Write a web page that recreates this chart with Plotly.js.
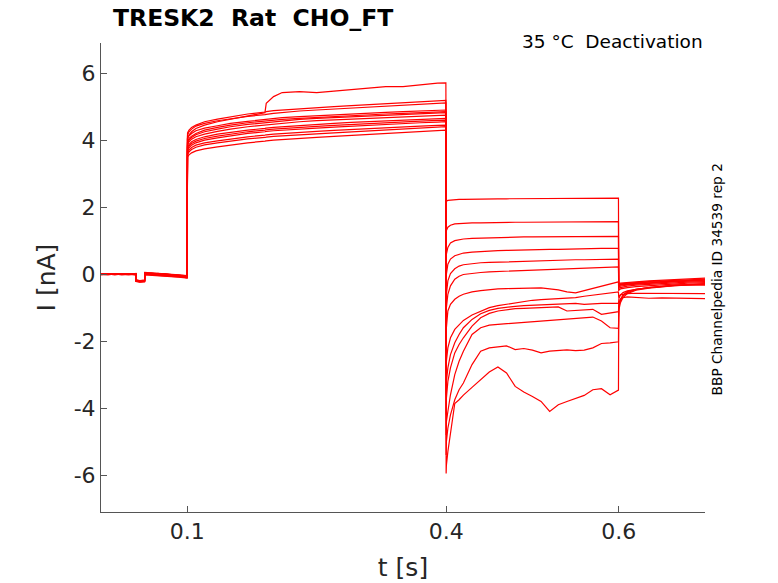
<!DOCTYPE html>
<html>
<head>
<meta charset="utf-8">
<script src="https://cdn.plot.ly/plotly-3.0.1.min.js"></script>
<style>
  html, body { margin: 0; padding: 0; background: #fff; }
  #plot { width: 778px; height: 583px; }
</style>
</head>
<body>
<div id="plot"></div>
<script>
// time points of each protocol segment (s)
let tBase = [0, 0.008, 0.016, 0.024, 0.032, 0.0404, 0.0406, 0.045, 0.0505, 0.0507, 0.058, 0.066, 0.074, 0.082, 0.09, 0.0997];
let tStep = [0.1, 0.1003, 0.102, 0.105, 0.11, 0.12, 0.135, 0.15, 0.17, 0.19, 0.1915, 0.2, 0.21, 0.23, 0.25, 0.27, 0.29, 0.31, 0.33, 0.35, 0.37, 0.39, 0.3997];
let tTail = [0.4, 0.4003, 0.402, 0.405, 0.41, 0.415, 0.42, 0.43, 0.44, 0.45, 0.46, 0.47, 0.48, 0.49, 0.5, 0.51, 0.52, 0.53, 0.54, 0.55, 0.56, 0.57, 0.58, 0.59, 0.5997];
let tOff = [0.6, 0.6003, 0.602, 0.605, 0.61, 0.62, 0.635, 0.65, 0.665, 0.68, 0.7];

// current (nA), one row per sweep
let baseI = [
  [0.00, 0.02, -0.01, 0.01, 0.00, -0.02, -0.19, -0.21, -0.2, 0.02, 0.01, -0.02, 0.0, -0.03, -0.05, -0.07],
  [0.01, 0.0, 0.02, -0.01, 0.01, 0.0, -0.2, -0.22, -0.21, 0.03, 0.02, 0.0, -0.02, -0.02, -0.04, -0.06],
  [-0.01, 0.01, 0.0, 0.02, -0.01, 0.01, -0.18, -0.2, -0.19, 0.01, -0.01, 0.02, -0.01, -0.04, -0.06, -0.09],
  [0.02, -0.01, 0.01, 0.0, 0.02, -0.01, -0.21, -0.23, -0.22, 0.0, 0.03, -0.01, -0.03, -0.05, -0.05, -0.1],
  [0.0, 0.01, -0.02, 0.01, 0.0, 0.01, -0.19, -0.2, -0.18, 0.04, 0.02, 0.01, 0.02, -0.01, -0.03, -0.05],
  [-0.02, 0.0, 0.01, -0.01, 0.01, -0.02, -0.22, -0.24, -0.23, -0.02, -0.03, -0.04, -0.05, -0.07, -0.09, -0.12],
  [0.01, 0.02, 0.0, 0.01, -0.02, 0.0, -0.2, -0.21, -0.2, 0.02, 0.0, 0.01, -0.01, -0.03, -0.04, -0.08],
  [0.0, -0.02, 0.01, 0.02, 0.0, 0.01, -0.17, -0.19, -0.18, 0.05, 0.04, 0.03, 0.02, 0.0, -0.02, -0.04],
  [0.02, 0.0, -0.01, 0.0, 0.01, -0.01, -0.21, -0.22, -0.21, 0.01, 0.0, -0.02, -0.03, -0.06, -0.07, -0.11],
  [-0.01, 0.01, 0.02, 0.0, -0.01, 0.02, -0.19, -0.21, -0.2, 0.03, 0.01, 0.0, 0.01, -0.02, -0.05, -0.06],
  [0.01, -0.01, 0.0, 0.02, 0.01, 0.0, -0.2, -0.23, -0.21, 0.0, -0.02, -0.03, -0.04, -0.05, -0.08, -0.1],
  [0.0, 0.01, 0.01, -0.02, 0.0, 0.01, -0.18, -0.2, -0.19, 0.02, 0.03, 0.02, 0.0, -0.01, -0.03, -0.07],
  [0.02, 0.0, 0.02, 0.01, -0.01, 0.0, -0.21, -0.22, -0.2, -0.01, 0.0, -0.01, -0.02, -0.04, -0.06, -0.09]
];

let stepI = [
  [3.95, 4.05, 4.15, 4.25, 4.35, 4.45, 4.55, 4.62, 4.72, 4.82, 5.1, 5.3, 5.42, 5.45, 5.42, 5.47, 5.5, 5.55, 5.6, 5.6, 5.66, 5.7, 5.71],
  [4.1, 4.22, 4.3, 4.38, 4.45, 4.55, 4.63, 4.7, 4.78, 4.84, 4.85, 4.88, 4.9, 4.94, 4.97, 5.0, 5.03, 5.06, 5.09, 5.11, 5.14, 5.17, 5.19],
  [4.0, 4.15, 4.25, 4.33, 4.42, 4.5, 4.58, 4.64, 4.71, 4.76, 4.77, 4.8, 4.83, 4.87, 4.9, 4.93, 4.96, 4.99, 5.02, 5.05, 5.07, 5.1, 5.11],
  [3.9, 4.05, 4.13, 4.2, 4.28, 4.36, 4.43, 4.5, 4.56, 4.62, 4.62, 4.65, 4.67, 4.7, 4.73, 4.76, 4.78, 4.8, 4.83, 4.85, 4.87, 4.89, 4.9],
  [3.8, 3.95, 4.05, 4.12, 4.2, 4.3, 4.38, 4.45, 4.52, 4.57, 4.58, 4.6, 4.62, 4.65, 4.68, 4.7, 4.73, 4.76, 4.78, 4.8, 4.82, 4.84, 4.85],
  [3.75, 3.9, 4.0, 4.08, 4.16, 4.25, 4.33, 4.4, 4.47, 4.52, 4.53, 4.56, 4.58, 4.62, 4.65, 4.67, 4.7, 4.72, 4.75, 4.77, 4.79, 4.81, 4.82],
  [3.7, 3.85, 3.95, 4.03, 4.1, 4.18, 4.26, 4.33, 4.4, 4.45, 4.46, 4.48, 4.51, 4.55, 4.58, 4.6, 4.63, 4.65, 4.68, 4.7, 4.72, 4.74, 4.75],
  [3.65, 3.78, 3.87, 3.95, 4.02, 4.1, 4.18, 4.24, 4.3, 4.35, 4.36, 4.38, 4.4, 4.44, 4.47, 4.5, 4.53, 4.55, 4.58, 4.6, 4.62, 4.64, 4.65],
  [3.6, 3.72, 3.82, 3.9, 3.97, 4.05, 4.12, 4.18, 4.25, 4.3, 4.31, 4.33, 4.35, 4.38, 4.41, 4.44, 4.47, 4.5, 4.53, 4.55, 4.57, 4.59, 4.6],
  [3.55, 3.68, 3.77, 3.85, 3.92, 4.0, 4.07, 4.13, 4.2, 4.25, 4.26, 4.28, 4.3, 4.33, 4.36, 4.39, 4.42, 4.45, 4.48, 4.5, 4.52, 4.54, 4.55],
  [3.5, 3.62, 3.7, 3.78, 3.85, 3.92, 3.98, 4.04, 4.1, 4.15, 4.16, 4.18, 4.2, 4.23, 4.26, 4.29, 4.32, 4.35, 4.38, 4.4, 4.42, 4.44, 4.45],
  [3.45, 3.57, 3.65, 3.72, 3.79, 3.86, 3.92, 3.98, 4.04, 4.08, 4.09, 4.11, 4.13, 4.16, 4.19, 4.22, 4.25, 4.28, 4.31, 4.34, 4.36, 4.39, 4.4],
  [3.4, 3.5, 3.56, 3.62, 3.68, 3.74, 3.8, 3.86, 3.92, 3.97, 3.98, 4.0, 4.02, 4.05, 4.08, 4.11, 4.14, 4.17, 4.2, 4.23, 4.26, 4.29, 4.3]
];

let tailI = [
  [2.1, 2.18, 2.2, 2.21, 2.22, 2.23, 2.23, 2.24, 2.24, 2.24, 2.25, 2.25, 2.25, 2.25, 2.25, 2.26, 2.26, 2.26, 2.26, 2.26, 2.26, 2.26, 2.27, 2.27, 2.27],
  [1.1, 1.3, 1.4, 1.46, 1.5, 1.51, 1.52, 1.53, 1.53, 1.54, 1.54, 1.54, 1.55, 1.55, 1.55, 1.55, 1.56, 1.56, 1.56, 1.56, 1.56, 1.57, 1.57, 1.57, 1.57],
  [0.3, 0.6, 0.8, 0.93, 1.0, 1.03, 1.05, 1.07, 1.08, 1.09, 1.1, 1.1, 1.1, 1.11, 1.11, 1.11, 1.12, 1.12, 1.12, 1.12, 1.13, 1.13, 1.13, 1.13, 1.13],
  [-0.4, 0.0, 0.3, 0.45, 0.55, 0.6, 0.63, 0.66, 0.68, 0.69, 0.7, 0.71, 0.72, 0.72, 0.73, 0.73, 0.74, 0.74, 0.75, 0.75, 0.76, 0.76, 0.77, 0.77, 0.77],
  [-1.0, -0.6, -0.2, 0.02, 0.16, 0.24, 0.28, 0.32, 0.34, 0.35, 0.36, 0.37, 0.38, 0.39, 0.39, 0.4, 0.41, 0.42, 0.42, 0.43, 0.43, 0.44, 0.44, 0.45, 0.45],
  [-1.6, -1.0, -0.6, -0.35, -0.15, -0.06, -0.01, 0.03, 0.05, 0.07, 0.08, 0.09, 0.1, 0.1, 0.11, 0.12, 0.13, 0.14, 0.15, 0.16, 0.17, 0.19, 0.2, 0.21, 0.22],
  [-2.3, -1.6, -1.1, -0.9, -0.75, -0.66, -0.6, -0.53, -0.49, -0.46, -0.44, -0.43, -0.42, -0.41, -0.4, -0.41, -0.44, -0.47, -0.53, -0.56, -0.49, -0.42, -0.35, -0.28, -0.23],
  [-3.0, -2.6, -2.2, -1.9, -1.65, -1.5, -1.38, -1.22, -1.1, -1.0, -0.94, -0.9, -0.86, -0.8, -0.78, -0.76, -0.75, -0.74, -0.73, -0.7, -0.66, -0.63, -0.6, -0.56, -0.53],
  [-3.6, -3.2, -2.8, -2.4, -2.05, -1.8, -1.6, -1.35, -1.18, -1.08, -1.02, -0.98, -0.96, -0.94, -0.93, -0.92, -0.9, -0.89, -0.88, -0.87, -0.9, -0.88, -0.87, -0.87, -0.87],
  [-4.2, -3.7, -3.2, -2.8, -2.35, -2.1, -1.9, -1.55, -1.3, -1.17, -1.1, -1.06, -1.03, -1.02, -1.01, -1.0, -1.0, -0.98, -1.1, -1.08, -1.07, -1.05, -1.2, -1.15, -1.12],
  [-4.8, -4.4, -4.1, -3.6, -3.0, -2.6, -2.3, -1.8, -1.6, -1.52, -1.5, -1.48, -1.47, -1.45, -1.43, -1.4, -1.38, -1.36, -1.34, -1.33, -1.32, -1.28, -1.4, -1.6, -1.62],
  [-5.4, -5.0, -4.6, -4.2, -3.75, -3.45, -3.25, -2.7, -2.3, -2.2, -2.17, -2.14, -2.25, -2.22, -2.27, -2.35, -2.3, -2.28, -2.26, -2.28, -2.27, -2.2, -2.07, -2.05, -2.02],
  [-5.95, -5.7, -5.3, -4.7, -3.86, -3.75, -3.61, -3.38, -3.15, -2.92, -2.77, -2.95, -3.35, -3.52, -3.65, -3.8, -4.1, -3.9, -3.8, -3.7, -3.62, -3.45, -3.42, -3.6, -3.46]
];

let offI = [
  [-0.3, -0.28, -0.27, -0.26, -0.25, -0.23, -0.2, -0.18, -0.16, -0.14, -0.12],
  [-0.32, -0.3, -0.29, -0.28, -0.27, -0.25, -0.22, -0.2, -0.18, -0.16, -0.15],
  [-0.35, -0.33, -0.31, -0.3, -0.29, -0.27, -0.24, -0.22, -0.2, -0.19, -0.17],
  [-0.38, -0.35, -0.33, -0.32, -0.3, -0.28, -0.26, -0.23, -0.21, -0.2, -0.18],
  [-0.4, -0.38, -0.36, -0.34, -0.32, -0.3, -0.27, -0.25, -0.23, -0.21, -0.2],
  [-0.45, -0.42, -0.4, -0.38, -0.36, -0.33, -0.3, -0.28, -0.26, -0.24, -0.22],
  [-0.5, -0.47, -0.44, -0.42, -0.4, -0.37, -0.34, -0.31, -0.29, -0.27, -0.25],
  [-0.7, -0.66, -0.62, -0.6, -0.58, -0.57, -0.57, -0.56, -0.57, -0.58, -0.58],
  [-0.8, -0.72, -0.62, -0.55, -0.5, -0.45, -0.4, -0.36, -0.33, -0.31, -0.28],
  [-0.95, -0.85, -0.75, -0.7, -0.68, -0.7, -0.72, -0.71, -0.72, -0.73, -0.73],
  [-1.0, -0.9, -0.75, -0.62, -0.52, -0.45, -0.4, -0.36, -0.34, -0.32, -0.3],
  [-1.1, -0.95, -0.8, -0.65, -0.55, -0.46, -0.4, -0.36, -0.33, -0.31, -0.3],
  [-1.3, -1.05, -0.85, -0.7, -0.58, -0.48, -0.42, -0.37, -0.34, -0.33, -0.33]
];

let yTicks = [-6, -4, -2, 0, 2, 4, 6];
let yTickText = ['-6', '-4', '-2', '0', '2', '4', '6'];
let xTicks = [0.1, 0.4, 0.6];
let xTickText = ['0.1', '0.4', '0.6'];

let tAll = tBase.concat(tStep, tTail, tOff);
let traces = baseI.map((b, i) => {
    return {
        type: 'scatter',
        mode: 'lines',
        x: tAll,
        y: b.concat(stepI[i], tailI[i], offI[i]),
        line: {color: '#ff0000', width: 1.2},
        hoverinfo: 'skip'
    };
});

let font = 'DejaVu Sans, sans-serif';
let nb = '\u00a0';

let layout = {
    width: 778,
    height: 583,
    margin: {l: 101, r: 73, t: 43, b: 71},
    paper_bgcolor: '#fff',
    plot_bgcolor: '#fff',
    showlegend: false,
    font: {family: font, color: '#262626'},
    xaxis: {
        range: [0, 0.7],
        tickvals: xTicks,
        ticktext: xTickText,
        ticks: 'inside',
        ticklen: 6,
        tickcolor: '#555',
        showline: true,
        linecolor: '#555',
        linewidth: 1,
        showgrid: false,
        zeroline: false,
        tickfont: {size: 22, color: '#262626'},
        title: {text: 't [s]', font: {size: 25, color: '#262626'}, standoff: 15}
    },
    yaxis: {
        range: [-7.1, 6.9],
        tickvals: yTicks,
        ticktext: yTickText,
        ticks: 'inside',
        ticklen: 6,
        tickcolor: '#555',
        showline: true,
        linecolor: '#555',
        linewidth: 1,
        showgrid: false,
        zeroline: false,
        tickfont: {size: 22, color: '#262626'},
        title: {text: 'I [nA]', font: {size: 25, color: '#262626'}, standoff: 10}
    },
    annotations: [
        {
            text: '<b>TRESK2' + nb + nb + 'Rat' + nb + nb + 'CHO_FT</b>',
            xref: 'paper', yref: 'paper', x: 0.017, y: 1.053,
            xanchor: 'left', yanchor: 'middle', showarrow: false,
            font: {family: font, size: 23.5, color: '#000'}
        },
        {
            text: '35 °C' + nb + nb + 'Deactivation',
            xref: 'paper', yref: 'paper', x: 1.0, y: 1.004,
            xanchor: 'right', yanchor: 'middle', showarrow: false,
            font: {family: font, size: 18.5, color: '#000'}
        },
        {
            text: 'BBP Channelpedia ID 34539 rep 2',
            xref: 'paper', yref: 'paper', x: 1.0199, y: 0.496,
            xanchor: 'center', yanchor: 'middle', showarrow: false,
            textangle: -90,
            font: {family: font, size: 13.7, color: '#000'}
        }
    ]
};

Plotly.newPlot('plot', traces, layout, {staticPlot: true, displayModeBar: false});
</script>
</body>
</html>
